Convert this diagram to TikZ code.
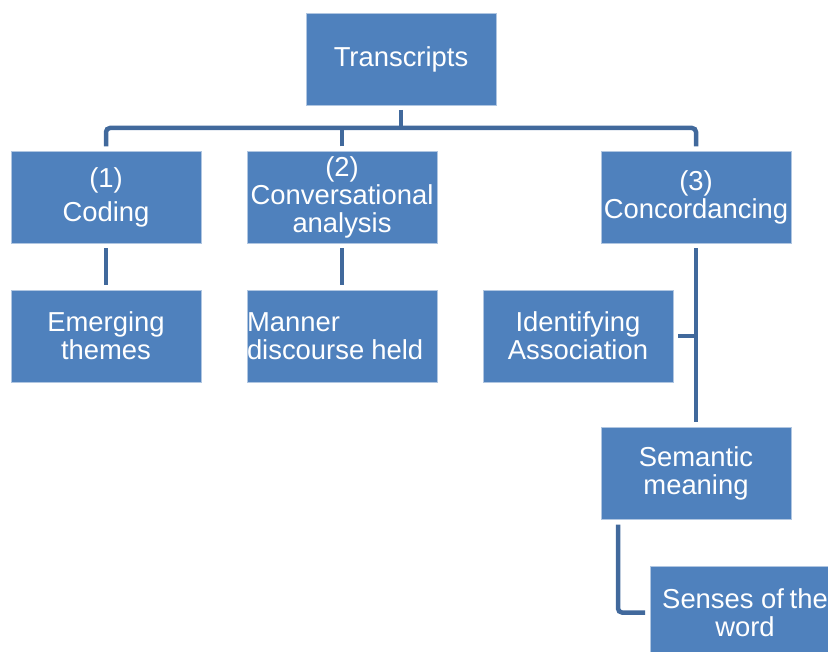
\documentclass[tikz,border=0pt]{standalone}
\usepackage{fontspec}
\setmainfont{Liberation Sans}
\usetikzlibrary{calc}
\definecolor{boxblue}{HTML}{4F81BD}
\definecolor{lineblue}{HTML}{41699C}
\tikzset{
  box/.style={rectangle, fill=boxblue, draw=white!55!boxblue, line width=0.6pt,
    minimum width=190pt, minimum height=92pt, inner sep=0pt, outer sep=5pt,
    text=white, align=center, font=\fontsize{27.4}{28}\selectfont},
  conn/.style={draw=lineblue, line width=4.5pt, rounded corners=4pt}
}
\begin{document}
\begin{tikzpicture}[x=1pt,y=-1pt]
\useasboundingbox (0,0) rectangle (828,652);
\node[box] (t) at (401,59) {Transcripts};
\node[box] (c1) at (106,197.5) {(1)\\[6pt]Coding};
\node[box] (c2) at (342,197.5) {(2)\\Conversational\\analysis};
\node[box] (c3) at (696,197.5) {(3)\\Concordancing};
\node[box] (e) at (106,336) {Emerging\\themes};
\node[box, align=left, text width=190pt] (m) at (342,336) {Manner\\discourse\hspace{-2pt} held};
\node[box] (i) at (578,336) {Identifying\\Association};
\node[box] (s) at (696,473.5) {Semantic\\meaning};
\node[box] (w) at (745,612.5) {Senses of\hspace{-2pt} the\\word};
\coordinate (bus) at (0,128);
\coordinate (elb) at (618,0);
\draw[conn] (c1.north) |- (t.south|-bus) -| (c3.north);
\draw[conn] (t.south) -- (t.south|-bus);
\draw[conn] (c2.north) -- (c2.north|-bus);
\draw[conn] (c1.south) -- (e.north);
\draw[conn] (c2.south) -- (m.north);
\draw[conn] (c3.south) -- (s.north);
\draw[conn] (i.east) -- (i.east-|c3.south);
\draw[conn] (s.south-|elb) |- (w.west);
\end{tikzpicture}
\end{document}
